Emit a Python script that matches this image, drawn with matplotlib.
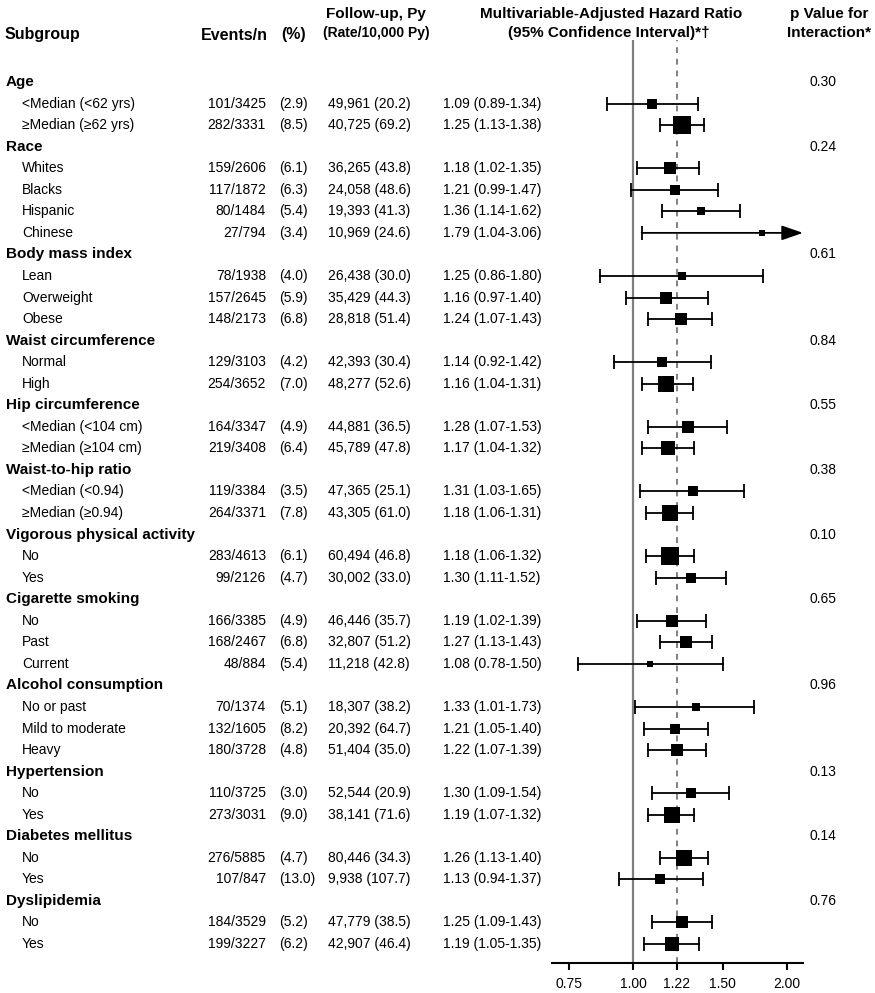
import matplotlib
matplotlib.use("Agg")
import matplotlib.pyplot as plt
from matplotlib.transforms import blended_transform_factory

plt.rcParams["font.family"] = ["Liberation Sans", "DejaVu Sans"]

# subgroups
group_names = ["Age", "Race", "Body mass index", "Waist circumference", "Hip circumference",
               "Waist-to-hip ratio", "Vigorous physical activity", "Cigarette smoking",
               "Alcohol consumption", "Hypertension", "Diabetes mellitus", "Dyslipidemia"]
group_p = ["0.30", "0.24", "0.61", "0.84", "0.55", "0.38", "0.10", "0.65", "0.96", "0.13", "0.14", "0.76"]
group_sizes = [2, 4, 3, 2, 2, 2, 2, 3, 3, 2, 2, 2]

sub_labels = ["<Median (<62 yrs)", "≥Median (≥62 yrs)",
              "Whites", "Blacks", "Hispanic", "Chinese",
              "Lean", "Overweight", "Obese",
              "Normal", "High",
              "<Median (<104 cm)", "≥Median (≥104 cm)",
              "<Median (<0.94)", "≥Median (≥0.94)",
              "No", "Yes",
              "No", "Past", "Current",
              "No or past", "Mild to moderate", "Heavy",
              "No", "Yes",
              "No", "Yes",
              "No", "Yes"]
events = [101, 282, 159, 117, 80, 27, 78, 157, 148, 129, 254, 164, 219, 119, 264,
          283, 99, 166, 168, 48, 70, 132, 180, 110, 273, 276, 107, 184, 199]
n_total = [3425, 3331, 2606, 1872, 1484, 794, 1938, 2645, 2173, 3103, 3652, 3347, 3408, 3384, 3371,
           4613, 2126, 3385, 2467, 884, 1374, 1605, 3728, 3725, 3031, 5885, 847, 3529, 3227]
pct = [2.9, 8.5, 6.1, 6.3, 5.4, 3.4, 4.0, 5.9, 6.8, 4.2, 7.0, 4.9, 6.4, 3.5, 7.8,
       6.1, 4.7, 4.9, 6.8, 5.4, 5.1, 8.2, 4.8, 3.0, 9.0, 4.7, 13.0, 5.2, 6.2]
follow_py = [49961, 40725, 36265, 24058, 19393, 10969, 26438, 35429, 28818, 42393, 48277, 44881, 45789,
             47365, 43305, 60494, 30002, 46446, 32807, 11218, 18307, 20392, 51404, 52544, 38141,
             80446, 9938, 47779, 42907]
rate = [20.2, 69.2, 43.8, 48.6, 41.3, 24.6, 30.0, 44.3, 51.4, 30.4, 52.6, 36.5, 47.8, 25.1, 61.0,
        46.8, 33.0, 35.7, 51.2, 42.8, 38.2, 64.7, 35.0, 20.9, 71.6, 34.3, 107.7, 38.5, 46.4]
hr = [1.09, 1.25, 1.18, 1.21, 1.36, 1.79, 1.25, 1.16, 1.24, 1.14, 1.16, 1.28, 1.17, 1.31, 1.18,
      1.18, 1.30, 1.19, 1.27, 1.08, 1.33, 1.21, 1.22, 1.30, 1.19, 1.26, 1.13, 1.25, 1.19]
ci_lo = [0.89, 1.13, 1.02, 0.99, 1.14, 1.04, 0.86, 0.97, 1.07, 0.92, 1.04, 1.07, 1.04, 1.03, 1.06,
         1.06, 1.11, 1.02, 1.13, 0.78, 1.01, 1.05, 1.07, 1.09, 1.07, 1.13, 0.94, 1.09, 1.05]
ci_hi = [1.34, 1.38, 1.35, 1.47, 1.62, 3.06, 1.80, 1.40, 1.43, 1.42, 1.31, 1.53, 1.32, 1.65, 1.31,
         1.32, 1.52, 1.39, 1.43, 1.50, 1.73, 1.40, 1.39, 1.54, 1.32, 1.40, 1.37, 1.43, 1.35]

ticks = [0.75, 1.00, 1.22, 1.50, 2.00]
overall_hr = 1.22

W, H = 875, 993
XMIN, XMAX = 0.694, 2.154

fig = plt.figure(figsize=(W / 100, H / 100), dpi=100)
ax = fig.add_axes([552 / W, 1 - 963 / H, 251 / W, (963 - 40) / H])
ax.set_xscale("log")
ax.set_xlim(XMIN, XMAX)
ax.set_ylim(-40.88, 1.95)

tr = blended_transform_factory(fig.transFigure, ax.transData)


def put(xpx, y, s, size=10, **kw):
    fig.text(xpx / W, y, s, transform=tr, va="center", fontsize=size, **kw)


ax.axvline(1.0, color="#808080", lw=1.6, zorder=1)
ax.axvline(overall_hr, color="#808080", lw=1.4, ls=(0, (3, 3)), zorder=1)

row = 0
k = 0
for g, name in enumerate(group_names):
    y = -row
    put(6, y, name, size=11, fontweight="bold")
    put(810, y, group_p[g])
    row += 1
    for j in range(group_sizes[g]):
        y = -row
        put(22, y, sub_labels[k])
        put(266, y, f"{events[k]}/{n_total[k]}", ha="right")
        put(279, y, f"({pct[k]:.1f})")
        put(328, y, f"{follow_py[k]:,} ({rate[k]:.1f})")
        put(443, y, f"{hr[k]:.2f} ({ci_lo[k]:.2f}-{ci_hi[k]:.2f})")

        # confidence interval
        ax.plot([ci_lo[k]], [y], marker="|", ms=9.5, mew=1.3, color="black", zorder=3)
        if ci_hi[k] < XMAX:
            ax.plot([ci_lo[k], ci_hi[k]], [y, y], color="black", lw=1.3, zorder=3)
            ax.plot([ci_hi[k]], [y], marker="|", ms=9.5, mew=1.3, color="black", zorder=3)
        else:
            ax.annotate("", xy=(XMAX, y), xytext=(ci_lo[k], y),
                        arrowprops=dict(arrowstyle="-|>,head_length=1.3,head_width=0.45",
                                        color="black", lw=1.3, shrinkA=0, shrinkB=0),
                        annotation_clip=False, zorder=3)
        side_px = 4.9 + 0.043 * events[k]
        ax.plot([hr[k]], [y], marker="s", ms=side_px * 0.72, color="black", mew=0, zorder=4)
        row += 1
        k += 1

for sp in ["top", "left", "right"]:
    ax.spines[sp].set_visible(False)
ax.spines["bottom"].set_linewidth(1.5)
ax.set_yticks([])
ax.set_xticks(ticks)
ax.set_xticklabels([f"{t:.2f}" for t in ticks])
ax.minorticks_off()
ax.tick_params(axis="x", direction="out", length=5, width=1.5, labelsize=10, pad=5)

# headers
hdr = dict(fontweight="bold", fontsize=11.5, va="center")
fig.text(5 / W, 1 - 35 / H, "Subgroup", ha="left", **hdr)
fig.text(268 / W, 1 - 35 / H, "Events/n", ha="right", **hdr)
fig.text(294 / W, 1 - 35 / H, "(%)", ha="center", **hdr)
fig.text(376 / W, 1 - 14 / H, "Follow-up, Py", ha="center", fontweight="bold", fontsize=11, va="center")
fig.text(376 / W, 1 - 33 / H, "(Rate/10,000 Py)", ha="center", fontweight="bold", fontsize=10, va="center")
fig.text(611 / W, 1 - 14 / H, "Multivariable-Adjusted Hazard Ratio", ha="center", fontweight="bold", fontsize=11, va="center")
fig.text(609 / W, 1 - 33 / H, "(95% Confidence Interval)*†", ha="center", fontweight="bold", fontsize=11, va="center")
fig.text(829 / W, 1 - 14 / H, "p Value for", ha="center", fontweight="bold", fontsize=11, va="center")
fig.text(829 / W, 1 - 33 / H, "Interaction*", ha="center", fontweight="bold", fontsize=11, va="center")

fig.savefig("out.png", dpi=100)
